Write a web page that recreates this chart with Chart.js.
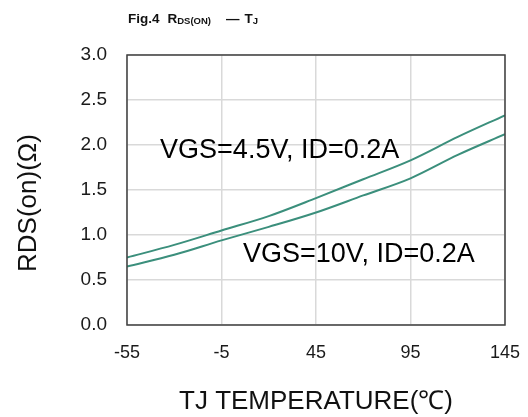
<!DOCTYPE html>
<html>
<head>
<meta charset="utf-8">
<script src="https://cdn.jsdelivr.net/npm/chart.js@4/dist/chart.umd.min.js"></script>
<style>
  html, body { margin: 0; padding: 0; background: #fff; }
  #wrap { width: 528px; height: 417px; }
</style>
</head>
<body>
<div id="wrap"><canvas id="rdsChart"></canvas></div>
<script>
// Temperatures (°C) the curves were read at
const temps = [-55, -30, -5, 20, 45, 70, 95, 120, 145];
// RDS(on) in ohms
const rdsVgs45 = [0.75, 0.89, 1.05, 1.21, 1.41, 1.62, 1.83, 2.09, 2.33];
const rdsVgs10 = [0.65, 0.78, 0.94, 1.09, 1.25, 1.44, 1.63, 1.89, 2.12];
const xTicks = [-55, -5, 45, 95, 145];
const yTicks = [0, 0.5, 1, 1.5, 2, 2.5, 3];
// labels placed inside the plot, in data units
const curveLabels = [
  { text: "VGS=4.5V, ID=0.2A", x: -37.5, y: 1.94 },
  { text: "VGS=10V, ID=0.2A", x: 6.4, y: 0.78 },
];

const lineColor = "#3b8f7c";
const FONT = "'Liberation Sans', Arial, sans-serif";

function toPoints(ys) {
  return temps.map((t, i) => ({ x: t, y: ys[i] }));
}

// frame round the plot + curve labels + y title + figure caption
const extras = {
  id: "extras",
  afterDraw(chart) {
    const { ctx, chartArea, scales } = chart;
    ctx.save();
    ctx.strokeStyle = "#404040";
    ctx.lineWidth = 1.5;
    ctx.strokeRect(chartArea.left, chartArea.top, chartArea.right - chartArea.left, chartArea.bottom - chartArea.top);

    ctx.fillStyle = "#000";
    ctx.font = "27px " + FONT;
    ctx.textBaseline = "middle";
    ctx.textAlign = "left";
    curveLabels.forEach((l) => {
      ctx.fillText(l.text, scales.x.getPixelForValue(l.x), scales.y.getPixelForValue(l.y));
    });

    // y axis title, sits a bit below the plot centre like the original
    ctx.save();
    ctx.translate(29, 203);
    ctx.rotate(-Math.PI / 2);
    ctx.textAlign = "center";
    ctx.font = "26px " + FONT;
    ctx.fillStyle = "#111";
    ctx.fillText("RDS(on)(Ω)", 0, 0);
    ctx.restore();

    // caption: Fig.4  R DS(ON) — T J
    ctx.fillStyle = "#111";
    ctx.textBaseline = "alphabetic";
    let x = 128;
    const base = 23;
    const parts = [
      ["Fig.4", 13.5, 0, 8],
      ["R", 13.5, 0, 0],
      ["DS(ON)", 9.5, 1, 15],
      ["—", 13.5, 0, 5],
      ["T", 13.5, 0, 0],
      ["J", 9.5, 1, 0],
    ];
    parts.forEach(([s, size, sub, gap]) => {
      ctx.font = "bold " + size + "px " + FONT;
      ctx.fillText(s, x, base + sub);
      x += ctx.measureText(s).width + gap;
    });
    ctx.restore();
  },
};

new Chart(document.getElementById("rdsChart"), {
  type: "line",
  data: {
    datasets: [
      { label: "VGS=4.5V", data: toPoints(rdsVgs45) },
      { label: "VGS=10V", data: toPoints(rdsVgs10) },
    ].map((d) => ({
      ...d,
      borderColor: lineColor,
      borderWidth: 2,
      pointRadius: 0,
      tension: 0.4,
      cubicInterpolationMode: "monotone",
      fill: false,
    })),
  },
  options: {
    responsive: true,
    maintainAspectRatio: false,
    animation: false,
    events: [],
    layout: { padding: { left: 0, top: 55, right: 23, bottom: 0 } },
    plugins: { legend: { display: false }, tooltip: { enabled: false } },
    scales: {
      x: {
        type: "linear",
        min: -55,
        max: 145,
        afterBuildTicks: (s) => { s.ticks = xTicks.map((v) => ({ value: v })); },
        afterFit: (s) => {
          s.height = 92;
          // tick padding would otherwise eat into the right side
          s.paddingLeft = 0;
          s.paddingRight = 0;
        },
        grid: { color: "#d9d9d9", lineWidth: 1.5, drawTicks: false },
        border: { display: false },
        ticks: { color: "#1a1a1a", padding: 17, font: { family: FONT, size: 18 } },
        title: {
          display: true,
          text: "TJ TEMPERATURE(℃)",
          color: "#111",
          font: { family: FONT, size: 26 },
          padding: { top: 0, bottom: 0 },
        },
      },
      y: {
        min: 0,
        max: 3,
        afterBuildTicks: (s) => { s.ticks = yTicks.map((v) => ({ value: v })); },
        afterFit: (s) => { s.width = 127; },
        grid: { color: "#d9d9d9", lineWidth: 1.5, drawTicks: false },
        border: { display: false },
        ticks: {
          color: "#1a1a1a",
          padding: 20,
          font: { family: FONT, size: 19 },
          callback: (v) => v.toFixed(1),
        },
      },
    },
  },
  plugins: [extras],
});
</script>
</body>
</html>
